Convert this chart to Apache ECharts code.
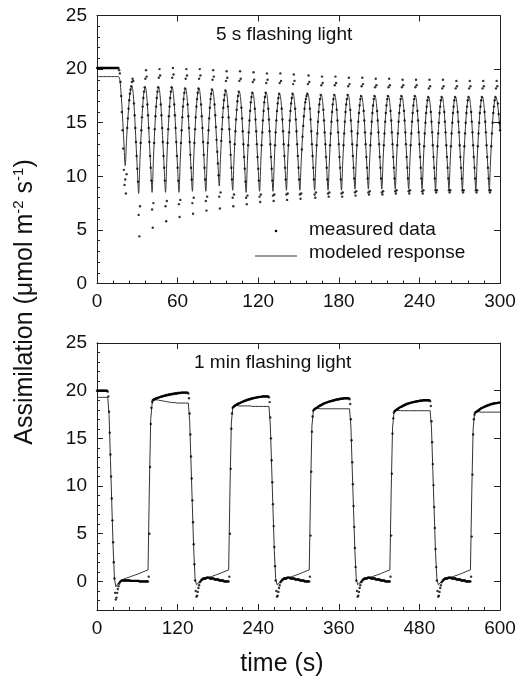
<!DOCTYPE html>
<html><head><meta charset="utf-8">
<script src="https://cdn.jsdelivr.net/npm/echarts@6/dist/echarts.min.js"></script>
<style>html,body{margin:0;padding:0;background:#fff}#c{width:524px;height:681px}</style>
</head><body><div id="c"></div>
<script>
// ================= DATA =================
// ---- Top panel: 5 s flashing light ----
const topXTicks = [0, 60, 120, 180, 240, 300];
const topYTicks = [0, 5, 10, 15, 20, 25];
// measured data sampled every 0.5 s ; model every 1 s
const topMeasStep = 0.5;
const topModelStep = 1;
// t = 0 .. 20.5 s (before flashing)
const topMeasPre = [
  20.1,20.1,20.1,20.1,20.1,20.1,20.1,20.1,20.1,20.1,20.1,
  20.1,20.1,20.1,20.1,20.1,20.1,20.1,20.1,20.1,20.1,20.1,
  20.1,20.1,20.1,20.1,20.1,20.1,20.1,20.1,20.1,20.1,20.1,
  19.9,19.6,18.8,17.5,16.0,14.3,12.6,10.6,9.2
];
// t = 0 .. 20 s
const topModelPre = [19.3,19.3,19.3,19.3,19.3,19.3,19.3,19.3,19.3,19.3,19.3,19.3,19.3,19.3,19.3,19.3,19.3,19.0,17.6,15.6,13.2];
// start time (model minimum) of each flash cycle
const topCycleStart = [21,31,41,51,61,71,81,91,101,111,121,131,141,151,162,172,182,192,202,212,222,232,242,252,262,272,282,292];
const topMeasCycles = [
  [9.7,8.4,10.2,14.5,15.4,16.3,17.1,17.7,18.1,18.4,18.8,19.1,18.9,16.8,15.7,14.5,13.2,11.9,10.7,9.5],
  [6.4,4.4,7.2,13.1,14.3,15.5,16.5,17.3,17.9,18.3,19.1,19.9,19.3,16.7,15.7,14.5,13.2,11.9,10.8,9.6],
  [6.9,5.2,7.5,13.1,14.4,15.6,16.5,17.3,17.9,18.3,19.2,20.0,19.4,16.7,15.7,14.5,13.2,11.9,10.8,9.6],
  [7.2,5.8,7.7,13.1,14.4,15.6,16.5,17.3,17.9,18.3,19.2,20.1,19.5,16.7,15.7,14.5,13.2,11.9,10.8,9.6],
  [7.4,6.2,7.8,13.1,14.3,15.5,16.5,17.2,17.8,18.2,19.1,20.0,19.4,16.7,15.6,14.5,13.2,12.0,10.8,9.7],
  [7.5,6.5,8.0,13.1,14.4,15.5,16.5,17.2,17.8,18.2,19.1,20.0,19.4,16.7,15.6,14.5,13.2,12.0,10.8,9.7],
  [7.7,6.8,8.1,13.1,14.3,15.4,16.4,17.2,17.7,18.1,19.0,19.9,19.3,16.7,15.7,14.6,13.4,12.3,11.2,10.1],
  [8.1,7.0,8.5,13.3,14.4,15.5,16.4,17.1,17.6,18.0,18.9,19.8,19.2,16.5,15.5,14.4,13.2,12.0,10.8,9.7],
  [8.0,7.2,8.3,13.0,14.2,15.3,16.2,17.0,17.5,17.9,18.9,19.8,19.1,16.4,15.4,14.2,13.0,11.8,10.7,9.5],
  [8.0,7.4,8.2,12.9,14.1,15.2,16.1,16.9,17.4,17.8,18.8,19.7,19.0,16.3,15.3,14.2,13.0,11.8,10.7,9.6],
  [8.1,7.6,8.3,12.9,14.1,15.2,16.1,16.9,17.4,17.8,18.7,19.6,19.0,16.3,15.3,14.2,13.0,11.8,10.7,9.6],
  [8.2,7.7,8.3,12.9,14.1,15.2,16.1,16.8,17.3,17.7,18.7,19.6,18.9,16.3,15.3,14.2,13.0,11.9,10.8,9.7],
  [8.3,7.8,8.4,12.9,14.1,15.2,16.1,16.8,17.3,17.7,18.6,19.5,18.9,16.3,15.3,14.2,13.0,11.9,10.8,9.7],
  [8.3,7.9,8.4,12.5,13.7,14.7,15.6,16.3,16.9,17.2,17.5,17.7,18.6,19.4,18.8,16.3,15.3,14.2,13.0,11.9,10.8,9.7],
  [8.3,8.0,8.5,12.9,14.0,15.1,16.0,16.7,17.2,17.6,18.5,19.3,18.7,16.2,15.2,14.1,13.0,11.8,10.8,9.7],
  [8.4,8.1,8.5,12.9,14.0,15.1,16.0,16.7,17.2,17.6,18.5,19.3,18.7,16.2,15.2,14.1,13.0,11.8,10.8,9.7],
  [8.4,8.1,8.5,12.9,14.0,15.1,16.0,16.7,17.2,17.6,18.4,19.2,18.6,16.2,15.2,14.2,13.0,11.9,10.8,9.8],
  [8.5,8.2,8.6,12.9,14.0,15.1,15.9,16.6,17.2,17.5,18.4,19.2,18.6,16.1,15.2,14.1,13.0,11.8,10.8,9.8],
  [8.5,8.3,8.6,12.9,14.0,15.1,15.9,16.6,17.2,17.5,18.3,19.1,18.5,16.1,15.2,14.1,13.0,11.8,10.8,9.8],
  [8.5,8.3,8.6,12.9,14.0,15.1,15.9,16.6,17.2,17.5,18.3,19.1,18.5,16.1,15.2,14.1,13.0,11.8,10.8,9.8],
  [8.6,8.4,8.7,12.9,14.0,15.1,15.9,16.6,17.2,17.5,18.3,19.0,18.5,16.1,15.2,14.1,13.0,11.8,10.8,9.8],
  [8.6,8.4,8.7,12.9,14.0,15.1,15.9,16.6,17.2,17.5,18.3,19.0,18.5,16.1,15.2,14.1,13.0,11.8,10.8,9.8],
  [8.6,8.4,8.7,12.8,14.0,15.0,15.9,16.5,17.1,17.4,18.2,19.0,18.4,16.0,15.1,14.1,12.9,11.8,10.8,9.8],
  [8.7,8.5,8.7,12.8,14.0,15.0,15.9,16.5,17.1,17.4,18.2,19.0,18.4,16.0,15.1,14.1,12.9,11.8,10.8,9.8],
  [8.7,8.5,8.7,12.8,14.0,15.0,15.9,16.5,17.1,17.4,18.2,18.9,18.4,16.0,15.1,14.1,12.9,11.8,10.8,9.8],
  [8.7,8.5,8.7,12.8,14.0,15.0,15.9,16.5,17.1,17.4,18.2,18.9,18.4,16.0,15.1,14.1,12.9,11.8,10.8,9.8],
  [8.7,8.5,8.7,12.8,14.0,15.0,15.9,16.5,17.1,17.4,18.2,18.9,18.4,16.0,15.1,14.1,12.9,11.8,10.8,9.8],
  [8.7,8.5,8.7,12.8,14.0,15.0,15.9,16.5,17.1,17.4,18.2,18.9,18.4,16.8,15.8,15.0,14.3]
];
const topModelCycles = [
  [11.0,13.4,15.4,17.1,18.1,18.4,17.6,15.7,13.2,10.7],
  [8.4,11.6,14.3,16.5,17.9,18.3,17.5,15.7,13.2,10.8],
  [8.5,11.6,14.4,16.5,17.9,18.3,17.5,15.7,13.2,10.8],
  [8.5,11.6,14.4,16.5,17.9,18.3,17.5,15.7,13.2,10.8],
  [8.5,11.6,14.3,16.5,17.8,18.2,17.4,15.6,13.2,10.8],
  [8.6,11.7,14.4,16.5,17.8,18.2,17.4,15.6,13.2,10.8],
  [8.6,11.6,14.3,16.4,17.7,18.1,17.4,15.7,13.4,11.2],
  [9.1,11.9,14.4,16.4,17.6,18.0,17.3,15.5,13.2,10.8],
  [8.7,11.6,14.2,16.2,17.5,17.9,17.1,15.4,13.0,10.7],
  [8.5,11.5,14.1,16.1,17.4,17.8,17.1,15.3,13.0,10.7],
  [8.6,11.5,14.1,16.1,17.4,17.8,17.1,15.3,13.0,10.7],
  [8.6,11.5,14.1,16.1,17.3,17.7,17.0,15.3,13.0,10.8],
  [8.7,11.6,14.1,16.1,17.3,17.7,17.0,15.3,13.0,10.8],
  [8.7,11.3,13.7,15.6,16.9,17.5,17.7,17.0,15.3,13.0,10.8],
  [8.7,11.5,14.0,16.0,17.2,17.6,16.9,15.2,13.0,10.7],
  [8.7,11.5,14.0,16.0,17.2,17.6,16.9,15.2,13.0,10.7],
  [8.7,11.5,14.0,16.0,17.2,17.6,16.9,15.2,13.0,10.8],
  [8.8,11.6,14.0,15.9,17.1,17.5,16.8,15.2,13.0,10.8],
  [8.8,11.6,14.0,15.9,17.1,17.5,16.8,15.2,13.0,10.8],
  [8.8,11.6,14.0,15.9,17.1,17.5,16.8,15.2,13.0,10.8],
  [8.8,11.6,14.0,15.9,17.1,17.5,16.8,15.2,13.0,10.8],
  [8.8,11.6,14.0,15.9,17.1,17.5,16.8,15.2,13.0,10.8],
  [8.8,11.6,14.0,15.9,17.1,17.4,16.7,15.1,12.9,10.8],
  [8.8,11.6,14.0,15.9,17.1,17.4,16.7,15.1,12.9,10.8],
  [8.8,11.6,14.0,15.9,17.1,17.4,16.7,15.1,12.9,10.8],
  [8.8,11.6,14.0,15.9,17.1,17.4,16.7,15.1,12.9,10.8],
  [8.8,11.6,14.0,15.9,17.1,17.4,16.7,15.1,12.9,10.8],
  [8.8,11.6,14.0,15.9,17.1,17.4,16.9,15.8,14.3]
];

// ---- Bottom panel: 1 min flashing light ----
const botXTicks = [0, 120, 240, 360, 480, 600];
const botYTicks = [0, 5, 10, 15, 20, 25];
const botMeasStep = 1;   // s
const botModelStep = 2;  // s
// phase start times: initial light, then dark / light alternating
const botPhaseStart = [0, 16, 76, 136, 196, 256, 316, 376, 436, 496, 556];
const botMeasFlat = [20.0,20.0,20.0,20.0,20.0,20.0,20.0,20.0,20.0,20.0,20.0,20.0,20.0,20.0,20.0,20.0];
const botMeasDark1 = [19.9,19.4,17.8,15.6,13.3,11.0,8.7,6.4,4.1,2.0,
  0.3,-1.2,-1.9,-1.7,-1.2,-0.8,-0.5,-0.25,-0.1,0.0,
  0.05,0.1,0.1,0.1,0.1,0.1,0.1,0.1,0.1,0.1,
  0.1,0.1,0.1,0.1,0.05,0.05,0.05,0.05,0.05,0.05,
  0.05,0.05,0.05,0.05,0.05,0.05,0.05,0.0,0.0,0.0,
  0.0,0.0,0.0,0.0,0.0,0.0,0.0,0.0,0.0,0.0];
const botMeasDark2 = [19.7,19.2,17.6,15.4,13.1,10.8,8.5,6.2,3.9,1.8,
  0.1,-1.0,-1.6,-1.5,-1.1,-0.7,-0.4,-0.1,0.0,0.1,
  0.2,0.2,0.3,0.3,0.3,0.3,0.3,0.4,0.4,0.4,
  0.4,0.4,0.3,0.3,0.3,0.3,0.3,0.3,0.3,0.2,
  0.2,0.2,0.2,0.2,0.2,0.2,0.1,0.1,0.1,0.1,
  0.1,0.1,0.1,0.0,0.0,0.0,0.0,0.0,0.0,0.0];
const botMeasDark3 = [19.3,18.8,17.2,15.0,12.7,10.4,8.1,5.8,3.6,1.6,
  0.1,-1.0,-1.6,-1.5,-1.1,-0.7,-0.4,-0.1,0.0,0.1,
  0.2,0.2,0.3,0.3,0.3,0.3,0.3,0.4,0.4,0.4,
  0.4,0.4,0.3,0.3,0.3,0.3,0.3,0.3,0.3,0.2,
  0.2,0.2,0.2,0.2,0.2,0.2,0.1,0.1,0.1,0.1,
  0.1,0.1,0.1,0.0,0.0,0.0,0.0,0.0,0.0,0.0];
const botMeasDark4 = [19.1,18.6,17.0,14.8,12.5,10.2,7.9,5.7,3.5,1.5,
  0.1,-1.0,-1.6,-1.5,-1.1,-0.7,-0.4,-0.1,0.0,0.1,
  0.2,0.2,0.3,0.3,0.3,0.3,0.3,0.4,0.4,0.4,
  0.4,0.4,0.3,0.3,0.3,0.3,0.3,0.3,0.3,0.2,
  0.2,0.2,0.2,0.2,0.2,0.2,0.1,0.1,0.1,0.1,
  0.1,0.1,0.1,0.0,0.0,0.0,0.0,0.0,0.0,0.0];
const botMeasDark5 = [18.9,18.4,16.8,14.6,12.3,10.1,7.8,5.6,3.4,1.5,
  0.1,-1.0,-1.6,-1.5,-1.1,-0.7,-0.4,-0.1,0.0,0.1,
  0.2,0.2,0.3,0.3,0.3,0.3,0.3,0.4,0.4,0.4,
  0.4,0.4,0.3,0.3,0.3,0.3,0.3,0.3,0.3,0.2,
  0.2,0.2,0.2,0.2,0.2,0.2,0.1,0.1,0.1,0.1,
  0.1,0.1,0.1,0.0,0.0,0.0,0.0,0.0,0.0,0.0];
const botMeasLight1 = [0.0,0.5,5.0,12.0,16.5,18.2,18.8,
  19.0,19.05,19.1,19.1,19.15,19.2,19.2,19.25,19.25,19.3,
  19.3,19.35,19.35,19.4,19.4,19.4,19.45,19.45,19.5,19.5,
  19.5,19.55,19.55,19.55,19.6,19.6,19.6,19.6,19.65,19.65,
  19.65,19.65,19.7,19.7,19.7,19.7,19.7,19.75,19.75,19.75,
  19.75,19.75,19.8,19.8,19.8,19.8,19.8,19.8,19.8,19.8,
  19.8,19.8,19.8];
const botMeasLight2 = [0.0,0.5,5.0,11.8,16.0,17.6,18.2,
  18.3,18.35,18.4,18.45,18.5,18.55,18.6,18.6,18.65,18.7,
  18.7,18.75,18.8,18.8,18.85,18.9,18.9,18.95,18.95,19.0,
  19.0,19.05,19.05,19.1,19.1,19.1,19.15,19.15,19.2,19.2,
  19.2,19.25,19.25,19.25,19.3,19.3,19.3,19.3,19.35,19.35,
  19.35,19.35,19.35,19.4,19.4,19.4,19.4,19.4,19.4,19.4,
  19.4,19.4,19.4];
const botMeasLight3 = [0.0,0.5,4.8,11.5,15.7,17.3,17.9,
  18.0,18.05,18.1,18.15,18.2,18.25,18.3,18.35,18.4,18.45,
  18.45,18.5,18.55,18.6,18.6,18.65,18.7,18.7,18.75,18.75,
  18.8,18.8,18.85,18.85,18.9,18.9,18.9,18.95,18.95,19.0,
  19.0,19.0,19.05,19.05,19.05,19.1,19.1,19.1,19.1,19.15,
  19.15,19.15,19.15,19.15,19.2,19.2,19.2,19.2,19.2,19.2,
  19.2,19.2,19.2];
const botMeasLight4 = [0.0,0.5,4.8,11.3,15.5,17.1,17.7,
  17.85,17.9,17.95,18.0,18.05,18.1,18.15,18.2,18.25,18.3,
  18.3,18.35,18.4,18.45,18.45,18.5,18.55,18.55,18.6,18.6,
  18.65,18.65,18.7,18.7,18.75,18.75,18.75,18.8,18.8,18.8,
  18.85,18.85,18.85,18.9,18.9,18.9,18.9,18.95,18.95,18.95,
  18.95,18.95,19.0,19.0,19.0,19.0,19.0,19.0,19.0,19.0,
  19.0,19.0,19.0];
const botMeasLight5 = [0.0,0.5,4.7,11.2,15.4,17.0,17.5,
  17.7,17.75,17.8,17.85,17.9,17.95,18.0,18.05,18.1,18.15,
  18.2,18.2,18.25,18.3,18.3,18.35,18.4,18.4,18.45,18.45,
  18.5,18.5,18.55,18.55,18.6,18.6,18.6,18.65,18.65,18.65,
  18.7,18.7,18.7,18.7,18.75,18.75,18.75,18.75];

const botModelFlat = [19.3,19.3,19.3,19.3,19.3,19.3,19.3,19.3];
const botModelDark1 = [19.3,17.4,12.8,8.2,3.6,0.3,-0.55,-0.35,-0.15,0.0,0.1,0.18,0.25,0.3,0.35,0.4,0.45,0.5,0.55,0.6,0.65,0.7,0.75,0.8,0.86,0.92,0.98,1.04,1.1,1.15];
const botModelDark2 = [18.7,16.8,12.3,7.8,3.3,0.3,-0.35,-0.25,-0.1,0.05,0.15,0.22,0.28,0.33,0.37,0.4,0.45,0.5,0.55,0.6,0.65,0.7,0.75,0.8,0.86,0.92,0.98,1.04,1.1,1.15];
const botModelDark3 = [18.35,16.5,12.1,7.6,3.2,0.3,-0.35,-0.25,-0.1,0.05,0.15,0.22,0.28,0.33,0.37,0.4,0.45,0.5,0.55,0.6,0.65,0.7,0.75,0.8,0.86,0.92,0.98,1.04,1.1,1.15];
const botModelDark4 = [18.1,16.3,11.8,7.4,3.1,0.3,-0.35,-0.25,-0.1,0.05,0.15,0.22,0.28,0.33,0.37,0.4,0.45,0.5,0.55,0.6,0.65,0.7,0.75,0.8,0.86,0.92,0.98,1.04,1.1,1.15];
const botModelDark5 = [17.9,16.1,11.6,7.3,3.0,0.3,-0.35,-0.25,-0.1,0.05,0.15,0.22,0.28,0.33,0.37,0.4,0.45,0.5,0.55,0.6,0.65,0.7,0.75,0.8,0.86,0.92,0.98,1.04,1.1,1.15];
const botModelLight1 = [1.2,10.0,17.0,18.6,19.0,19.1,19.05,19.0,19.0,18.95,18.95,18.9,18.9,18.85,18.85,18.8,18.8,18.8,18.75,18.75,18.75,18.7,18.7,18.7,18.7,18.7,18.7,18.7,18.7,18.7];
const botModelLight2 = [1.2,9.8,16.6,18.1,18.5,18.5,18.45,18.45,18.4,18.4,18.4,18.4,18.4,18.4,18.4,18.4,18.4,18.4,18.35,18.35,18.35,18.35,18.35,18.35,18.35,18.35,18.35,18.35,18.35,18.35];
const botModelLight3 = [1.2,9.6,16.3,17.8,18.15,18.2,18.15,18.15,18.1,18.1,18.1,18.1,18.1,18.1,18.1,18.1,18.1,18.1,18.1,18.1,18.1,18.1,18.1,18.1,18.1,18.1,18.1,18.1,18.1,18.1];
const botModelLight4 = [1.2,9.5,16.1,17.6,17.95,18.0,17.95,17.95,17.9,17.9,17.9,17.9,17.9,17.9,17.9,17.9,17.9,17.9,17.9,17.9,17.9,17.9,17.9,17.9,17.9,17.9,17.9,17.9,17.9,17.9];
const botModelLight5 = [1.2,9.4,16.0,17.5,17.8,17.85,17.8,17.8,17.75,17.75,17.75,17.75,17.75,17.75,17.75,17.75,17.75,17.75,17.75,17.75,17.75,17.75,17.75];

// ================= BUILD =================
function fromCycles(pre, preStep, starts, cycles, step) {
  const pts = pre.map((v, i) => [i * preStep, v]);
  cycles.forEach((c, k) => c.forEach((v, i) => pts.push([starts[k] + i * step, v])));
  return pts;
}
function fromPhases(starts, phases, step) {
  const pts = [];
  phases.forEach((p, k) => p.forEach((v, i) => pts.push([starts[k] + i * step, v])));
  return pts;
}
const topMeas = fromCycles(topMeasPre, topMeasStep, topCycleStart, topMeasCycles, topMeasStep);
const topModel = fromCycles(topModelPre, topModelStep, topCycleStart, topModelCycles, topModelStep);
const botMeas = fromPhases(botPhaseStart, [botMeasFlat, botMeasDark1, botMeasLight1, botMeasDark2, botMeasLight2,
  botMeasDark3, botMeasLight3, botMeasDark4, botMeasLight4, botMeasDark5, botMeasLight5], botMeasStep);
const botModel = fromPhases(botPhaseStart, [botModelFlat, botModelDark1, botModelLight1, botModelDark2, botModelLight2,
  botModelDark3, botModelLight3, botModelDark4, botModelLight4, botModelDark5, botModelLight5], botModelStep);

// ================= CHART =================
const FONT = '"Liberation Sans", Arial, Helvetica, sans-serif';
const AX = '#222';
const chart = echarts.init(document.getElementById('c'), null, {renderer: 'canvas'});

function xAx(grid, max, interval, pos, labels) {
  return {
    gridIndex: grid, type: 'value', min: 0, max: max, interval: interval, position: pos,
    axisLine: {show: true, onZero: false, lineStyle: {color: AX, width: 1}},
    axisTick: {show: true, inside: true, length: 6, lineStyle: {color: AX}},
    minorTick: {show: labels, splitNumber: 5, length: 3, lineStyle: {color: AX}},
    axisLabel: {show: labels, fontSize: 19, color: '#111', fontFamily: FONT, margin: 9,
      customValues: labels ? (max === 300 ? topXTicks : botXTicks) : undefined},
    splitLine: {show: false}, minorSplitLine: {show: false}
  };
}

const option = {
  animation: false,
  backgroundColor: '#fff',
  grid: [
    {left: 97, top: 15.5, width: 403, height: 268},
    {left: 97, top: 343, width: 403, height: 267}
  ],
  xAxis: [
    xAx(0, 300, 60, 'bottom', true),
    xAx(0, 300, 60, 'top', false),
    xAx(1, 600, 120, 'bottom', true),
    xAx(1, 600, 120, 'top', false)
  ],
  yAxis: [
    {gridIndex: 0, type: 'value', min: 0, max: 25, interval: 5, position: 'left',
      axisLine: {show: true, onZero: false, lineStyle: {color: AX}},
      axisTick: {show: true, inside: true, length: 6, lineStyle: {color: AX}},
      minorTick: {show: true, splitNumber: 5, length: 3, lineStyle: {color: AX}},
      axisLabel: {fontSize: 19, color: '#111', fontFamily: FONT, margin: 10, customValues: topYTicks},
      splitLine: {show: false}, minorSplitLine: {show: false}},
    {gridIndex: 0, type: 'value', min: 0, max: 25, interval: 5, position: 'right',
      axisLine: {show: true, onZero: false, lineStyle: {color: AX}},
      axisTick: {show: true, inside: true, length: 6, lineStyle: {color: AX}},
      axisLabel: {show: false}, splitLine: {show: false}},
    {gridIndex: 1, type: 'value', min: -3, max: 25, position: 'left',
      axisLine: {show: true, onZero: false, lineStyle: {color: AX}},
      axisTick: {show: true, inside: true, length: 6, lineStyle: {color: AX}, customValues: botYTicks},
      axisLabel: {fontSize: 19, color: '#111', fontFamily: FONT, margin: 10, customValues: botYTicks},
      splitLine: {show: false}},
    {gridIndex: 1, type: 'value', min: -3, max: 25, interval: 1, position: 'left',
      axisLine: {show: true, onZero: false, lineStyle: {color: AX}},
      axisTick: {show: true, inside: true, length: 3, lineStyle: {color: AX}},
      axisLabel: {show: false}, splitLine: {show: false}},
    {gridIndex: 1, type: 'value', min: -3, max: 25, position: 'right',
      axisLine: {show: true, onZero: false, lineStyle: {color: AX}},
      axisTick: {show: true, inside: true, length: 6, lineStyle: {color: AX}, customValues: botYTicks},
      axisLabel: {show: false}, splitLine: {show: false}}
  ],
  series: [
    {name: 'modeled response', type: 'line', xAxisIndex: 0, yAxisIndex: 0, data: topModel,
      smooth: 0.3, symbol: 'none', lineStyle: {color: '#333', width: 1}, silent: true, z: 2},
    {name: 'measured data', type: 'scatter', xAxisIndex: 0, yAxisIndex: 0, data: topMeas,
      symbol: 'circle', symbolSize: 2.4, itemStyle: {color: '#000'}, silent: true, z: 3},
    {name: 'modeled response', type: 'line', xAxisIndex: 2, yAxisIndex: 2, data: botModel,
      smooth: false, symbol: 'none', lineStyle: {color: '#333', width: 1}, silent: true, z: 2},
    {name: 'measured data', type: 'scatter', xAxisIndex: 2, yAxisIndex: 2, data: botMeas,
      symbol: 'circle', symbolSize: 2.4, itemStyle: {color: '#000'}, silent: true, z: 3}
  ],
  graphic: [
    {type: 'text', x: 216, y: 35, style: {text: '5 s flashing light', font: '19px ' + FONT, fill: '#111',
      textAlign: 'left', textVerticalAlign: 'middle'}},
    {type: 'text', x: 194, y: 363, style: {text: '1 min flashing light', font: '19px ' + FONT, fill: '#111',
      textAlign: 'left', textVerticalAlign: 'middle'}},
    {type: 'circle', shape: {cx: 276, cy: 231, r: 1.3}, style: {fill: '#000'}},
    {type: 'text', x: 309, y: 230, style: {text: 'measured data', font: '19px ' + FONT, fill: '#111',
      textAlign: 'left', textVerticalAlign: 'middle'}},
    {type: 'line', shape: {x1: 255, y1: 256, x2: 297, y2: 256}, style: {stroke: '#333', lineWidth: 1}},
    {type: 'text', x: 309, y: 253, style: {text: 'modeled response', font: '19px ' + FONT, fill: '#111',
      textAlign: 'left', textVerticalAlign: 'middle'}},
    {type: 'text', x: 282, y: 664, style: {text: 'time (s)', font: '25px ' + FONT, fill: '#111',
      textAlign: 'center', textVerticalAlign: 'middle'}},
    {type: 'text', x: 25, y: 302, rotation: Math.PI / 2,
      style: {text: 'Assimilation (μmol m{sup|-2} s{sup|-1})', fontSize: 25, fontFamily: FONT, fill: '#111',
        textAlign: 'center', textVerticalAlign: 'middle',
        rich: {sup: {fontSize: 15, fontFamily: FONT, fill: '#111', padding: [0, 0, 12, 0]}}}}
  ]
};
chart.setOption(option);
</script></body></html>
